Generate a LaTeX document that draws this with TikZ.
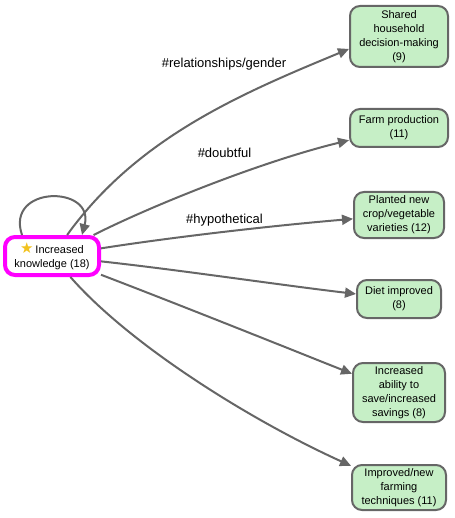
\documentclass[tikz,border=0pt]{standalone}
\usepackage{fontspec}
\setmainfont{Liberation Sans}
\newfontfamily\symfont{DejaVu Sans}
\usetikzlibrary{arrows.meta, positioning}
\definecolor{edgegray}{HTML}{666666}
\definecolor{outgreen}{HTML}{C6EFC6}
\definecolor{srcpink}{HTML}{FF00FF}
\definecolor{stargold}{HTML}{F2C21E}

\begin{document}
\begin{tikzpicture}[
  x=1pt, y=-1pt,
  outcome/.style={rectangle, draw=edgegray, fill=outgreen, line width=2pt, rounded corners=10pt, align=center, inner sep=2pt, font=\fontsize{11}{14}\selectfont},
  source/.style={rectangle, draw=srcpink, fill=white, line width=4pt, rounded corners=10pt, align=center, inner sep=2pt, font=\fontsize{11}{14}\selectfont},
  lbl/.style={font=\fontsize{13}{15}\selectfont, inner sep=0pt},
  arr/.style={-{Triangle[length=11pt, width=10pt]}, line width=2pt, color=edgegray},
]
\useasboundingbox (0,0) rectangle (454,518);

% Left: the source code
\node[source, minimum width=94pt, minimum height=38pt] (src) at (52,256) {{\symfont\fontsize{15}{14}\selectfont\color{stargold}\char"2605}\,Increased\\knowledge (18)};

% Right column: outcomes
\node[outcome, minimum width=98pt, minimum height=61pt] (shared) at (399,36.5) {Shared\\household\\decision-making\\(9)};
\node[outcome, minimum width=98pt, minimum height=38pt] (farm) at (399,128) {Farm production\\(11)};
\node[outcome, minimum width=90pt, minimum height=46pt] (plant) at (399,215) {Planted new\\crop/vegetable\\varieties (12)};
\node[outcome, minimum width=84pt, minimum height=38pt] (diet) at (399,299) {Diet improved\\(8)};
\node[outcome, minimum width=92pt, minimum height=59pt] (save) at (399,392.5) {Increased\\ability to\\save/increased\\savings (8)};
\node[outcome, minimum width=94pt, minimum height=45pt] (tech) at (399,487.5) {Improved/new\\farming\\techniques (11)};

% Edge labels
\node[lbl] (lgender) at (224,64) {\#relationships/gender};
\node[lbl] (ldoubt) at (224.5,152.5) {\#doubtful};
\node[lbl] (lhypo) at (224.5,220.5) {\#hypothetical};

% Self loop
\draw[arr] (src.145) .. controls (5,185) and (95,185) .. (src.35);

% Curved arrows to the outcomes
\draw[arr] (src) .. controls (137,138) and (240,94) .. (shared.194);
\draw[arr] (src) .. controls (151,206) and (260,162) .. (farm);
\draw[arr] (src) .. controls (180,236) and (280,225) .. (plant);
\draw[arr] (src) .. controls (180,270) and (280,285) .. (diet);
\draw[arr] (src) .. controls (180,305) and (280,345) .. (save);
\draw[arr] (src) .. controls (130,345) and (250,420) .. (tech);
\end{tikzpicture}
\end{document}
